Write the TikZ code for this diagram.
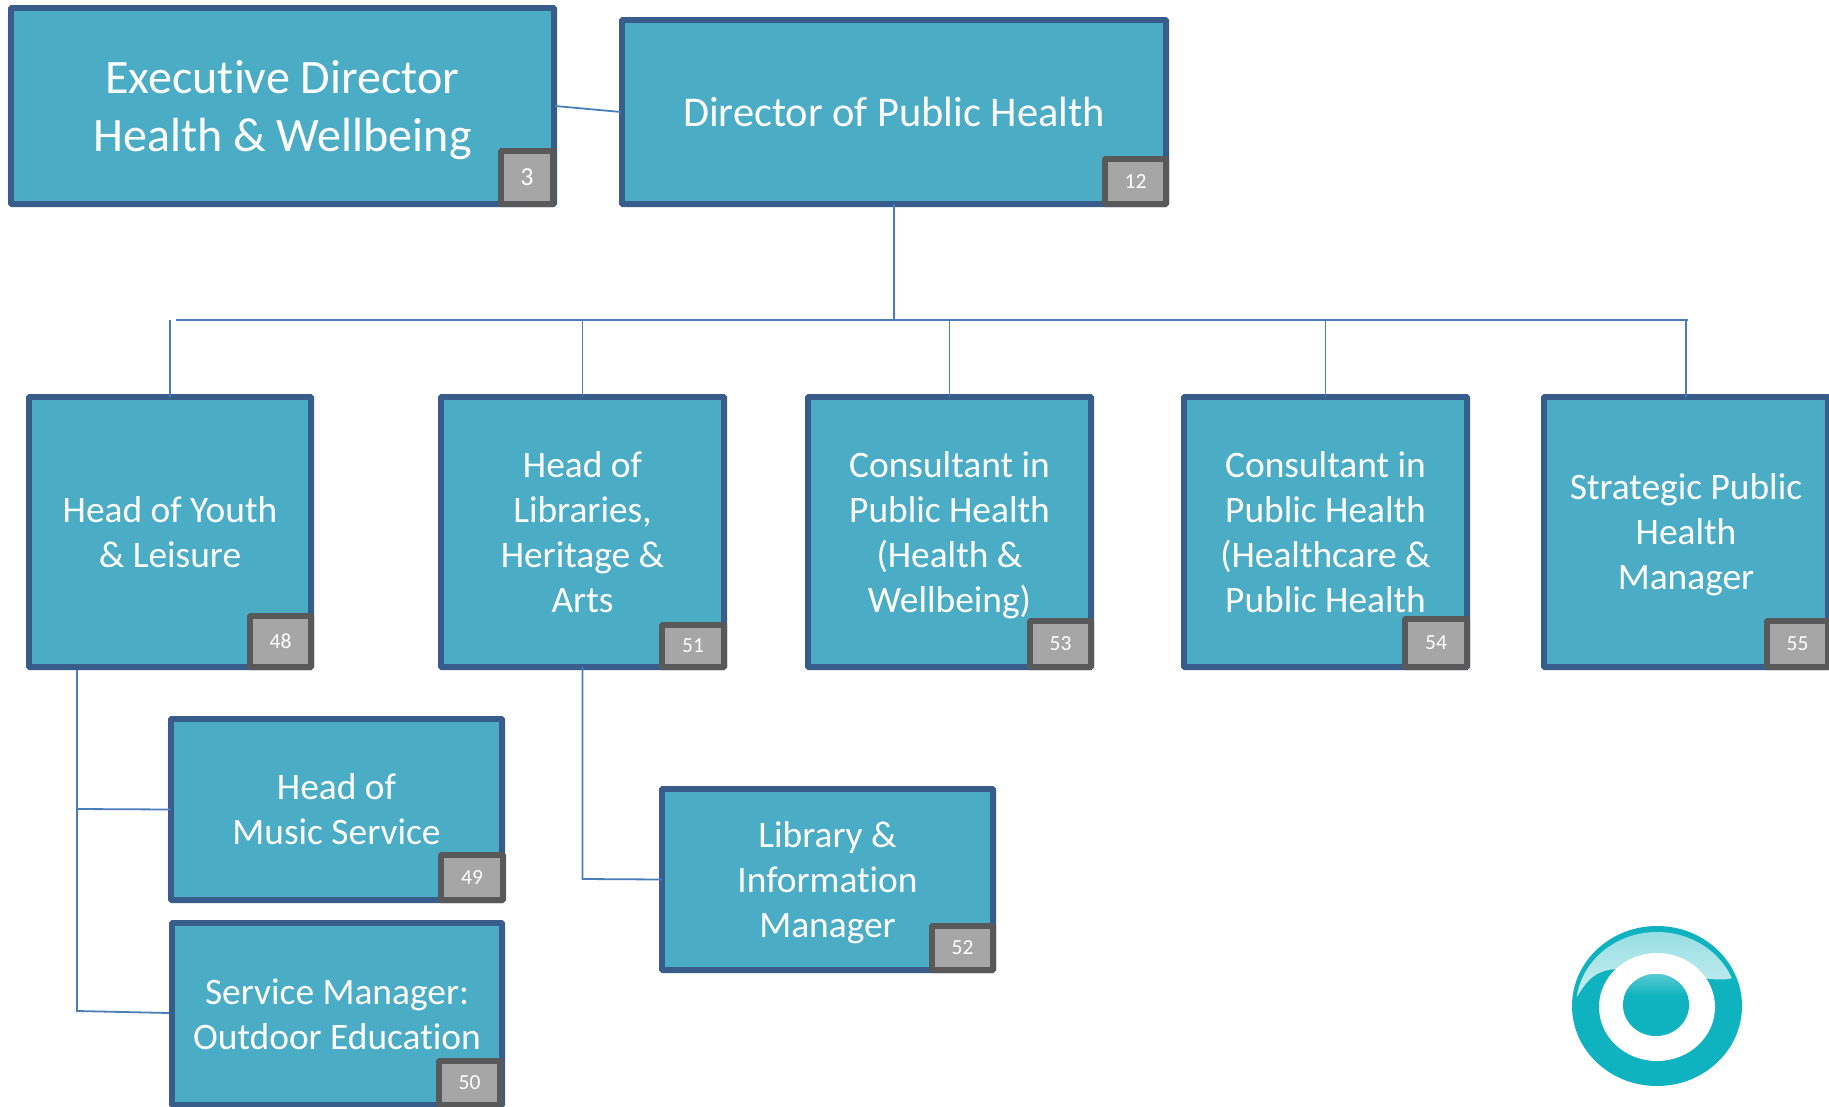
\documentclass[tikz,border=0pt]{standalone}
\usepackage{fontspec}
\setmainfont[Ligatures=NoCommon]{Carlito}
\definecolor{boxfill}{HTML}{4BACC6}
\definecolor{boxline}{HTML}{385D8A}
\definecolor{badgefill}{HTML}{A6A6A6}
\definecolor{badgeline}{HTML}{595959}
\definecolor{conn}{HTML}{4A7EBB}
\definecolor{logoteal}{HTML}{0FB3BF}
\usetikzlibrary{calc}
\tikzset{
  boxbase/.style={rectangle,outer sep=0pt,inner sep=0pt,align=center,text=white,rounded corners=1pt},
  rolebox/.style={boxbase,draw=boxline,fill=boxfill,line width=5.8pt,font=\fontsize{37.4}{45}\selectfont},
  bigrole/.style={font=\fontsize{48}{58}\selectfont},
  midrole/.style={font=\fontsize{42.4}{45}\selectfont},
  badgebox/.style={boxbase,draw=badgeline,fill=badgefill,line width=5.8pt,font=\fontsize{21.5}{24}\selectfont},
  bigbadge/.style={font=\fontsize{26}{28}\selectfont},
  connector/.style={draw=conn,line width=1.8pt},
}
\newcommand{\nodepth}[1]{\raisebox{0pt}[\height][0pt]{#1}}
% [extra style], name, x1, y1, x2, y2, text
\newcommand{\rolenode}[7][]{%
  \pgfmathsetmacro{\ww}{#5-#3-5.8}\pgfmathsetmacro{\hh}{#6-#4-5.8}%
  \node[rolebox,#1,minimum width=\ww pt,minimum height=\hh pt] (#2) at ({(#3+#5)/2},{(#4+#6)/2}) {#7};}
\newcommand{\badgenode}[7][]{%
  \pgfmathsetmacro{\ww}{#5-#3-5.8}\pgfmathsetmacro{\hh}{#6-#4-5.8}%
  \node[badgebox,#1,minimum width=\ww pt,minimum height=\hh pt] (#2) at ({(#3+#5)/2},{(#4+#6)/2}) {#7};}
\begin{document}
\begin{tikzpicture}[x=1pt,y=-1pt]
\clip (0,0) rectangle (1829,1106);
\fill[white] (0,0) rectangle (1829,1106);
% roles
\rolenode[bigrole]{exec}{8}{5}{557}{207}{Executive Director\\\nodepth{Health \& Wellbeing}}
\rolenode[midrole]{dir}{619}{17}{1169}{207}{Director of Public Health}
\rolenode{youth}{26}{394}{314}{670}{Head of Youth\\\& Leisure}
\rolenode{libs}{438}{394}{727}{670}{Head of\\Libraries,\\Heritage \&\\Arts}
\rolenode{cone}{805}{394}{1094}{670}{Consultant in\\Public Health\\(Health \&\\\nodepth{Wellbeing)}}
\rolenode{ctwo}{1181}{394}{1470}{670}{Consultant in\\Public Health\\(Healthcare \&\\Public Health}
\rolenode{strat}{1541}{394}{1831}{670}{Strategic Public\\Health\\\nodepth{Manager}}
\rolenode{music}{168}{716}{505}{903}{Head of\\Music Service}
\rolenode{outd}{169}{920}{505}{1108}{Service Manager:\\Outdoor Education}
\rolenode{libm}{659}{786}{996}{973}{Library \&\\Information\\\nodepth{Manager}}
% badges
\badgenode[bigbadge]{bexec}{498}{148}{556}{207}{\raisebox{-2pt}{3}}
\badgenode{bdir}{1102}{156}{1169}{207}{12}
\badgenode{byouth}{247}{613}{314}{670}{48}
\badgenode{blibs}{659}{622}{727}{670}{51}
\badgenode{bcone}{1027}{618}{1094}{670}{53}
\badgenode{bctwo}{1402}{616}{1470}{670}{54}
\badgenode{bstrat}{1764}{618}{1831}{670}{55}
\badgenode{bmusic}{438}{852}{506}{903}{49}
\badgenode{boutd}{436}{1058}{503}{1108}{50}
\badgenode{blibm}{929}{923}{996}{973}{52}
% connector points
\coordinate (busc) at (dir.south |- 0,320);
\coordinate (busl) at (176,320);
\coordinate (busr) at (1688,320);
\coordinate (toyouth) at (youth.north |- 0,320);
\coordinate (tolibs) at (libs.north |- 0,320);
\coordinate (tocone) at (cone.north |- 0,320);
\coordinate (toctwo) at (ctwo.north |- 0,320);
\coordinate (tostrat) at (strat.north |- 0,320);
\coordinate (ysp) at (77,670);
\coordinate (yjm) at (77,809);
\coordinate (yjo) at (77,1011);
\coordinate (ljm) at (libs.south |- 0,879);
\coordinate (exr) at (555,106);
\coordinate (dil) at (621,112);
\coordinate (oul) at (169,1013);
% connectors
\draw[connector] (exr) -- (dil);
\draw[connector] (dir.south) -- (busc);
\draw[connector] (busl) -- (busr);
\draw[connector] (toyouth) -- (youth.north);
\draw[connector] (tolibs) -- (libs.north);
\draw[connector] (tocone) -- (cone.north);
\draw[connector] (toctwo) -- (ctwo.north);
\draw[connector] (tostrat) -- (strat.north);
\draw[connector] (ysp) -- (yjo) -- (oul);
\draw[connector] (yjm) -- (music.west);
\draw[connector] (libs.south) -- (ljm) -- (libm.west);
% logo
\fill[logoteal] (1657,1006) ellipse [x radius=85,y radius=80];
\begin{scope}
  \clip (1657,1007) ellipse [x radius=81,y radius=75];
  \shade[top color=logoteal!45!white,bottom color=logoteal!22!white]
    (1575,1000) .. controls (1590,975) and (1600,960) .. (1657,975)
    .. controls (1700,975) and (1725,985) .. (1738,975)
    -- (1738,925) -- (1575,925) -- cycle;
\end{scope}
\fill[white] (1657,1007) ellipse [x radius=58,y radius=54];
\fill[logoteal] (1656,1005) ellipse [x radius=33,y radius=31];
\begin{scope}
  \clip (1656,1005) ellipse [x radius=33,y radius=31];
  \shade[top color=logoteal!70!white,bottom color=logoteal] (1620,974) rectangle (1690,996);
\end{scope}
\end{tikzpicture}
\end{document}
